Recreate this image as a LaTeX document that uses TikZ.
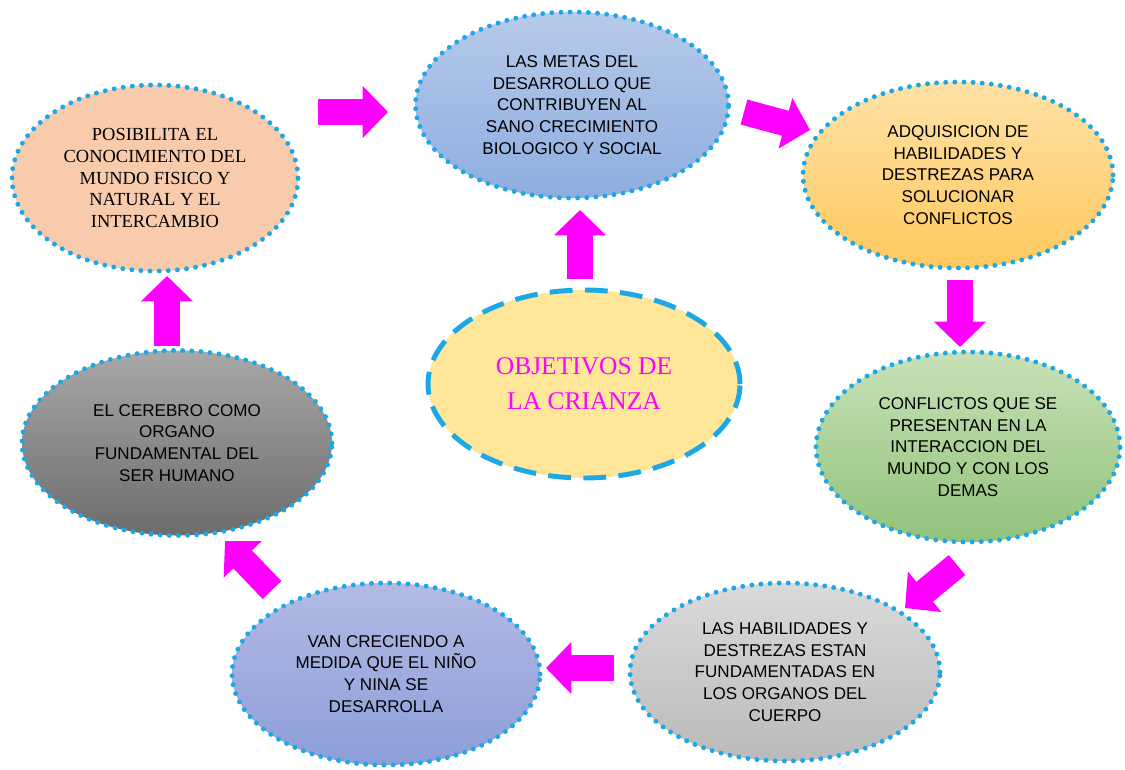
\documentclass[tikz,border=0pt]{standalone}
\usepackage{fontspec}
\setmainfont{Liberation Serif}
\setsansfont{Liberation Sans}
\usetikzlibrary{shapes.geometric,arrows.meta}

\definecolor{borde}{HTML}{1CA7E6}
\definecolor{flecha}{HTML}{FF00FF}
\definecolor{durazno}{HTML}{F8CBAD}
\definecolor{centro}{HTML}{FFE699}
\definecolor{azularriba}{HTML}{B6CAEA}
\definecolor{azulabajo}{HTML}{8EADDF}
\definecolor{naranjaarriba}{HTML}{FFE1A6}
\definecolor{naranjaabajo}{HTML}{FFC95E}
\definecolor{verdearriba}{HTML}{C8E1B8}
\definecolor{verdeabajo}{HTML}{91C27A}
\definecolor{grisarriba}{HTML}{DADADA}
\definecolor{grisabajo}{HTML}{BABABA}
\definecolor{lilaarriba}{HTML}{B3BAE4}
\definecolor{lilaabajo}{HTML}{8C9ED9}
\definecolor{oscuroarriba}{HTML}{A8A8A8}
\definecolor{oscuroabajo}{HTML}{6C6C6C}

\begin{document}
\begin{tikzpicture}[
  globo/.style={ellipse, draw=borde, line width=2.8pt, line cap=round,
    dash pattern=on 0pt off 5.2pt, inner sep=0pt, align=center,
    font=\sffamily\fontsize{9.7}{12.4}\selectfont},
  flechita/.style={flecha, line width=14.7pt,
    -{Triangle[width=29pt,length=14.5pt]}}
]
\useasboundingbox (0,0) rectangle (22.5,-15.38);

% ovalos
\node[globo, fill=durazno, minimum width=5.72cm, minimum height=3.72cm,
  font=\rmfamily\fontsize{10.5}{12.4}\selectfont] (posibilita) at (3.10,-3.56)
  {POSIBILITA EL\\CONOCIMIENTO DEL\\MUNDO FISICO Y\\NATURAL Y EL\\INTERCAMBIO};
\node[globo, top color=azularriba, bottom color=azulabajo,
  minimum width=6.26cm, minimum height=3.72cm] (metas) at (11.44,-2.10)
  {LAS METAS DEL\\DESARROLLO QUE\\CONTRIBUYEN AL\\SANO CRECIMIENTO\\BIOLOGICO Y SOCIAL};
\node[globo, top color=naranjaarriba, bottom color=naranjaabajo,
  minimum width=6.2cm, minimum height=3.72cm] (adquisicion) at (19.16,-3.50)
  {ADQUISICION DE\\HABILIDADES Y\\DESTREZAS PARA\\SOLUCIONAR\\CONFLICTOS};
\node[ellipse, draw=borde, fill=centro, line width=2.8pt, dash pattern=on 13pt off 7pt,
  minimum width=6.24cm, minimum height=3.76cm, align=center, text=flecha,
  font=\rmfamily\fontsize{14.5}{20}\selectfont] (objetivos) at (11.68,-7.68)
  {OBJETIVOS DE\\LA CRIANZA};
\node[globo, top color=verdearriba, bottom color=verdeabajo,
  minimum width=6.08cm, minimum height=3.8cm] (conflictos) at (19.36,-8.94)
  {CONFLICTOS QUE SE\\PRESENTAN EN LA\\INTERACCION DEL\\MUNDO Y CON LOS\\DEMAS};
\node[globo, top color=grisarriba, bottom color=grisabajo,
  minimum width=6.2cm, minimum height=3.56cm] (habilidades) at (15.70,-13.44)
  {LAS HABILIDADES Y\\DESTREZAS ESTAN\\FUNDAMENTADAS EN\\LOS ORGANOS DEL\\CUERPO};
\node[globo, top color=lilaarriba, bottom color=lilaabajo,
  minimum width=6.16cm, minimum height=3.64cm] (creciendo) at (7.72,-13.48)
  {VAN CRECIENDO A\\MEDIDA QUE EL NIÑO\\Y NINA SE\\DESARROLLA};
\node[globo, top color=oscuroarriba, bottom color=oscuroabajo,
  minimum width=6.2cm, minimum height=3.7cm] (cerebro) at (3.54,-8.86)
  {EL CEREBRO COMO\\ORGANO\\FUNDAMENTAL DEL\\SER HUMANO};

% extremos de las flechas
\coordinate (f1a) at (6.36,-2.24);   \coordinate (f1b) at (7.76,-2.24);
\coordinate (f2a) at (14.88,-2.24);  \coordinate (f2b) at (16.20,-2.60);
\coordinate (f3a) at (11.60,-5.58);  \coordinate (f3b) at (11.60,-4.20);
\coordinate (f4a) at (19.20,-5.60);  \coordinate (f4b) at (19.20,-6.94);
\coordinate (f5a) at (19.14,-11.30); \coordinate (f5b) at (18.10,-12.16);
\coordinate (f6a) at (12.28,-13.36); \coordinate (f6b) at (10.92,-13.36);
\coordinate (f7a) at (5.44,-11.80);  \coordinate (f7b) at (4.50,-10.82);
\coordinate (f8a) at (3.34,-6.92);   \coordinate (f8b) at (3.34,-5.52);

% flechas
\draw[flechita] (f1a) -- (f1b);
\draw[flechita] (f2a) -- (f2b);
\draw[flechita] (f3a) -- (f3b);
\draw[flechita] (f4a) -- (f4b);
\draw[flechita] (f5a) -- (f5b);
\draw[flechita] (f6a) -- (f6b);
\draw[flechita] (f7a) -- (f7b);
\draw[flechita] (f8a) -- (f8b);

\end{tikzpicture}
\end{document}
